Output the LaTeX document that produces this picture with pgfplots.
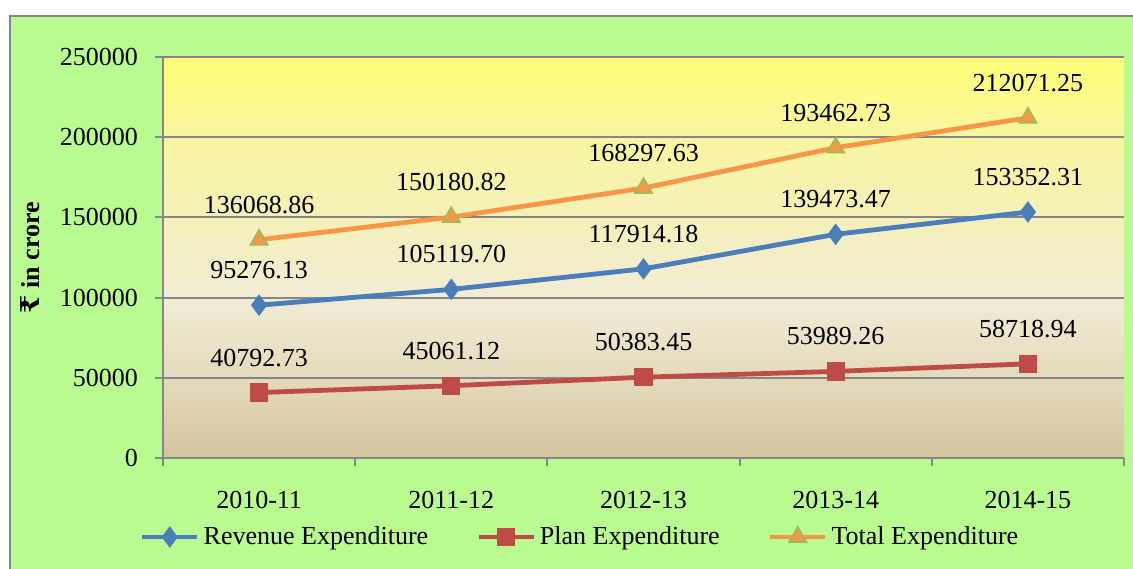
\documentclass[border=0pt]{standalone}
\usepackage{fontspec}
\setmainfont{Liberation Serif}
\newfontfamily\rupeefont{DejaVu Serif}
\usepackage{pgfplots}
\pgfplotsset{compat=1.18}
\definecolor{bggreen}{RGB}{185,251,144}
\definecolor{framegray}{RGB}{134,134,134}
\definecolor{revblue}{RGB}{74,126,187}
\definecolor{planred}{RGB}{190,75,72}
\definecolor{totorange}{RGB}{247,150,70}
\definecolor{triedge}{RGB}{155,187,89}
\definecolor{bg0}{RGB}{212,196,160}
\definecolor{bg1}{RGB}{228,218,188}
\definecolor{bg2}{RGB}{242,236,214}
\definecolor{bg3}{RGB}{245,240,184}
\definecolor{bg4}{RGB}{248,245,160}
\definecolor{bg5}{RGB}{255,255,120}
\pgfdeclareverticalshading{plotbg}{100bp}{color(0bp)=(bg0); color(25bp)=(bg0); color(35bp)=(bg1); color(45bp)=(bg2); color(55bp)=(bg3); color(65bp)=(bg4); color(75bp)=(bg5); color(100bp)=(bg5)}

\begin{document}
\begin{tikzpicture}
\useasboundingbox (0,0) rectangle (566.5pt,284pt);
\fill[white] (0,0) rectangle (566.5pt,284pt);
\filldraw[fill=bggreen, draw=framegray, line width=1pt] (5pt,-3pt) rectangle (570pt,276pt);
\begin{axis}[
  at={(81.5pt,55pt)}, anchor=south west,
  scale only axis,
  width=480.5pt, height=200.5pt,
  font=\fontsize{13}{15}\selectfont,
  xmin=-0.5, xmax=4.5,
  ymin=0, ymax=250000,
  ytick={0,50000,...,250000},
  xtick={0,1,2,3,4},
  xticklabels={2010-11,2011-12,2012-13,2013-14,2014-15},
  xtick style={draw=none},
  extra x ticks={-0.5,0.5,1.5,2.5,3.5,4.5},
  extra x tick labels={},
  extra x tick style={xtick style={draw=framegray}, grid=none},
  axis x line=bottom, axis y line=left,
  axis line style={draw=framegray, line width=1pt, -},
  tick align=outside, major tick length=4pt,
  tick style={draw=framegray, line width=1pt},
  ymajorgrids, grid style={draw=framegray, line width=1pt},
  scaled y ticks=false,
  yticklabel style={xshift=-5pt, /pgf/number format/.cd, fixed, 1000 sep={}, assume math mode=true},
  xticklabel style={yshift=-9pt},
  axis background/.style={shade, shading=plotbg},
  ylabel={\textbf{{\rupeefont ₹} in crore}},
  ylabel style={at={(axis description cs:-0.138,0.5)}, anchor=center, rotate=0},
  point meta=explicit symbolic,
  nodes near coords,
  every node near coord/.append style={anchor=center, yshift=17.5pt, text=black, font=\fontsize{13}{15}\selectfont},
  legend columns=3,
  legend style={at={(0.435,-0.197)}, anchor=center, draw=none, fill=none,
    font=\fontsize{13}{15}\selectfont,
    /tikz/every even column/.append style={column sep=22pt}},
  legend image code/.code={
    \draw[mark repeat=2, mark phase=2, #1] plot coordinates {(0pt,0pt) (13.75pt,0pt) (27.5pt,0pt)};
  },
]
\addplot[revblue, line width=2.4pt, mark=diamond*, mark size=5pt,
  mark options={solid, fill=revblue, draw=revblue, line width=0.5pt}]
  coordinates {(0,95276.13) [95276.13] (1,105119.70) [105119.70] (2,117914.18) [117914.18] (3,139473.47) [139473.47] (4,153352.31) [153352.31]};
\addlegendentry{Revenue Expenditure}
\addplot[planred, line width=2.4pt, mark=square*, mark size=4.3pt,
  mark options={solid, fill=planred, draw=planred, line width=0.5pt}]
  coordinates {(0,40792.73) [40792.73] (1,45061.12) [45061.12] (2,50383.45) [50383.45] (3,53989.26) [53989.26] (4,58718.94) [58718.94]};
\addlegendentry{Plan Expenditure}
\addplot[totorange, line width=2.4pt, mark=triangle*, mark size=5pt,
  mark options={solid, fill=totorange, draw=triedge, line width=0.8pt}]
  coordinates {(0,136068.86) [136068.86] (1,150180.82) [150180.82] (2,168297.63) [168297.63] (3,193462.73) [193462.73] (4,212071.25) [212071.25]};
\addlegendentry{Total Expenditure}
\end{axis}
\end{tikzpicture}
\end{document}
